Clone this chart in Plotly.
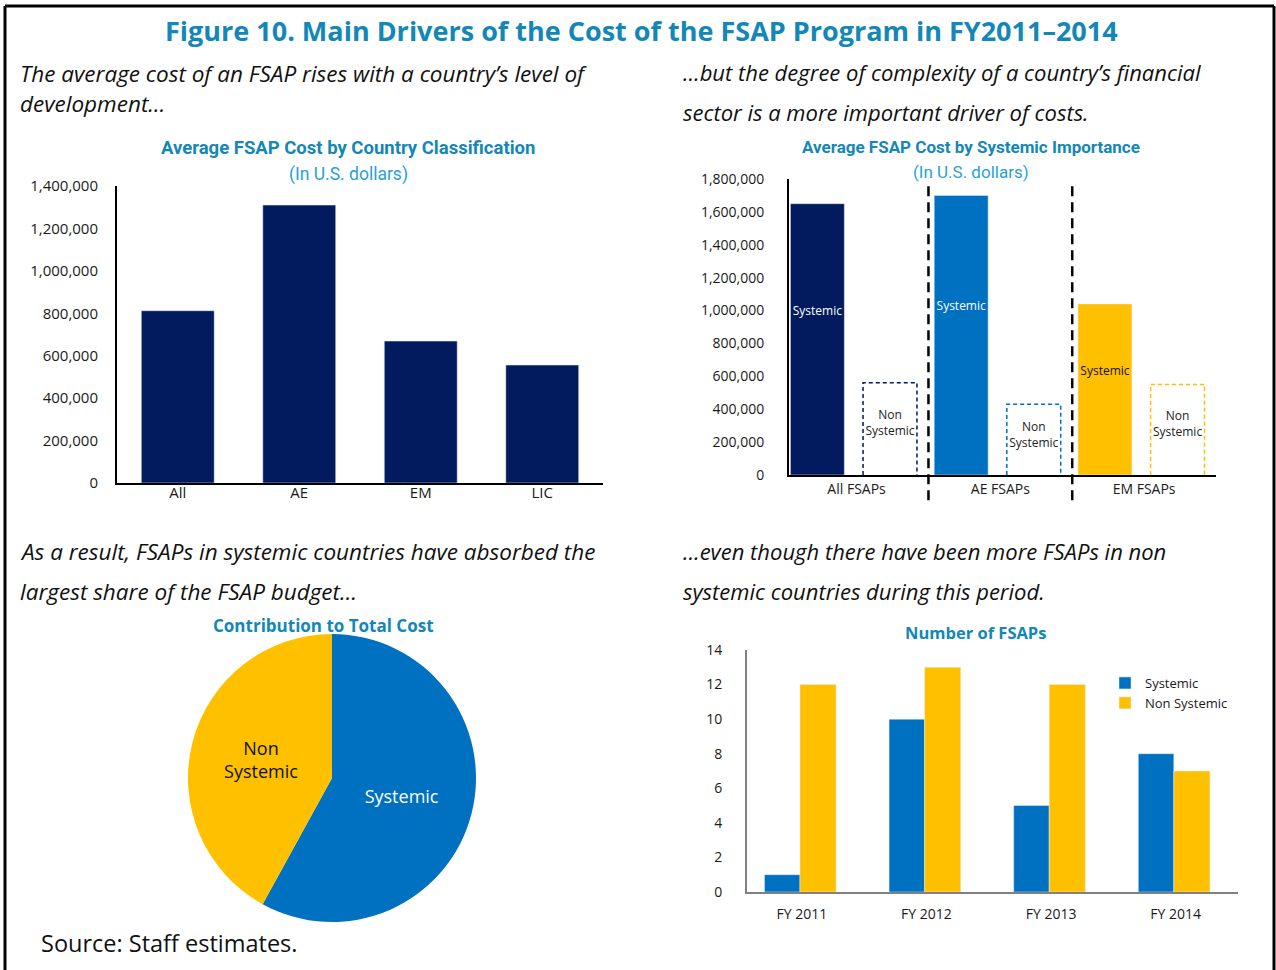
import plotly.graph_objs as go

# top left: average FSAP cost by country classification
class_names = ['All', 'AE', 'EM', 'LIC']
class_cost = [812000, 1310000, 669000, 556000]

# top right: average FSAP cost by systemic importance
group_names = ['All FSAPs', 'AE FSAPs', 'EM FSAPs']
systemic_cost = [1650000, 1700000, 1040000]
non_systemic_cost = [561000, 430000, 551000]

# bottom left: contribution to total cost (percent)
share_labels = ['Systemic', 'Non Systemic']
share_values = [58, 42]

# bottom right: number of FSAPs
years = ['FY 2011', 'FY 2012', 'FY 2013', 'FY 2014']
n_systemic = [1, 10, 5, 8]
n_non_systemic = [12, 13, 12, 7]

NAVY = '#021b5e'
BLUE = '#0070c0'
GOLD = '#ffc000'
TEAL = '#1387b6'
LIGHT = '#2a9fd6'
group_colors = [NAVY, BLUE, GOLD]

W, H = 1276, 970
FONT = 'Open Sans'


def px(x):
    return x / W


def py(y):
    return 1 - y / H


def note(text, x, y, size, color='#111111', bold=False, italic=False, xanchor='left', family=FONT):
    if bold:
        text = '<b>' + text + '</b>'
    if italic:
        text = '<i>' + text + '</i>'
    return dict(text=text, x=px(x), y=py(y), xref='paper', yref='paper',
                xanchor=xanchor, yanchor='middle', showarrow=False,
                font=dict(family=family, size=size, color=color))


traces = []

# panel 1
traces.append(go.Bar(
    x=list(range(len(class_names))), y=class_cost, width=0.6,
    marker=dict(color=NAVY), xaxis='x', yaxis='y', showlegend=False,
    hoverinfo='skip'
))

# panel 2: systemic bars, then white non-systemic bars with dashed outline
bw = 0.375
off_s = -0.46
off_n = 0.045
idx = list(range(len(group_names)))
traces.append(go.Bar(
    x=idx, y=systemic_cost, width=bw, offset=off_s,
    marker=dict(color=group_colors), xaxis='x2', yaxis='y2', showlegend=False,
    hoverinfo='skip'
))
traces.append(go.Bar(
    x=idx, y=non_systemic_cost, width=bw, offset=off_n,
    marker=dict(color='white'), xaxis='x2', yaxis='y2', showlegend=False,
    hoverinfo='skip'
))
for i, v in enumerate(non_systemic_cost):
    x0, x1 = i + off_n, i + off_n + bw
    traces.append(go.Scatter(
        x=[x0, x0, x1, x1], y=[0, v, v, 0], mode='lines',
        line=dict(color=group_colors[i], width=1.5, dash='4px,3px'),
        xaxis='x2', yaxis='y2', showlegend=False, hoverinfo='skip'
    ))
traces.append(go.Scatter(
    x=[i + off_s + bw / 2 for i in idx], y=[v * 0.6 for v in systemic_cost],
    mode='text', text=['Systemic'] * 3,
    textfont=dict(family=FONT, size=12, color=['white', 'white', '#111111']),
    xaxis='x2', yaxis='y2', showlegend=False, hoverinfo='skip'
))
traces.append(go.Scatter(
    x=[i + off_n + bw / 2 for i in idx], y=[v * 0.55 for v in non_systemic_cost],
    mode='text', text=['Non<br>Systemic'] * 3,
    textfont=dict(family=FONT, size=12, color='#222222'),
    xaxis='x2', yaxis='y2', showlegend=False, hoverinfo='skip'
))

# panel 3: pie
traces.append(go.Pie(
    labels=share_labels, values=share_values,
    text=['Systemic', 'Non<br>Systemic'], textinfo='text',
    textposition='inside', insidetextorientation='horizontal',
    textfont=dict(family=FONT, size=18, color=['white', '#111111']),
    marker=dict(colors=[BLUE, GOLD]),
    direction='clockwise', sort=False, rotation=0,
    domain=dict(x=[px(181), px(483)], y=[py(922), py(634)]),
    showlegend=False, hoverinfo='skip'
))

# panel 4
yr = list(range(len(years)))
traces.append(go.Bar(
    x=yr, y=n_systemic, width=0.285, offset=-0.3, name='Systemic',
    marker=dict(color=BLUE), xaxis='x3', yaxis='y3', hoverinfo='skip'
))
traces.append(go.Bar(
    x=yr, y=n_non_systemic, width=0.29, offset=-0.015, name='Non Systemic',
    marker=dict(color=GOLD), xaxis='x3', yaxis='y3', hoverinfo='skip'
))

tickfont = dict(family=FONT, size=15, color='#1a1a1a')
smallfont = dict(family=FONT, size=14, color='#1a1a1a')

common = dict(showgrid=False, zeroline=False, fixedrange=True, ticks='', automargin=False)

layout = go.Layout(
    width=W, height=H,
    margin=dict(l=0, r=0, t=0, b=0, pad=0, autoexpand=False),
    paper_bgcolor='white', plot_bgcolor='white',
    font=dict(family=FONT, color='#1a1a1a'),
    barmode='overlay',
    xaxis=dict(domain=[px(117), px(603)], range=[-0.5, 3.5], anchor='y',
               tickvals=list(range(len(class_names))), ticktext=class_names,
               showline=True, linecolor='black', linewidth=2,
               tickfont=tickfont, ticklabelstandoff=-5, **common),
    yaxis=dict(domain=[py(483), py(186)], range=[0, 1400000], dtick=200000, anchor='x',
               tickformat=',', showline=True, linecolor='black', linewidth=2,
               tickfont=tickfont, ticklabelstandoff=14, **common),
    xaxis2=dict(domain=[px(789), px(1216)], range=[-0.47, 2.5], anchor='y2',
                tickvals=idx, ticktext=group_names,
                showline=True, linecolor='black', linewidth=2,
                tickfont=smallfont, ticklabelstandoff=0, **common),
    yaxis2=dict(domain=[py(475), py(179)], range=[0, 1800000], dtick=200000, anchor='x2',
                tickformat=',', showline=True, linecolor='black', linewidth=2,
                tickfont=smallfont, ticklabelstandoff=20, **common),
    xaxis3=dict(domain=[px(747), px(1238)], range=[-0.44, 3.5], anchor='y3',
                tickvals=yr, ticktext=years,
                showline=True, linecolor='#808080', linewidth=2,
                tickfont=smallfont, ticklabelstandoff=8, **common),
    yaxis3=dict(domain=[py(892), py(650)], range=[0, 14], dtick=2, anchor='x3',
                showline=True, linecolor='#808080', linewidth=2,
                tickfont=smallfont, ticklabelstandoff=20, **common),
    legend=dict(x=px(1105), y=py(668), xanchor='left', yanchor='top',
                font=dict(family=FONT, size=13, color='#1a1a1a'),
                bgcolor='rgba(0,0,0,0)', tracegroupgap=0, itemwidth=30),
)

annotations = [
    note('Figure 10. Main Drivers of the Cost of the FSAP Program in FY2011\u20132014',
         641, 30, 27, color=TEAL, bold=True, xanchor='center'),
    note('The average cost of an FSAP rises with a country\u2019s level of', 18, 74, 22.5, italic=True),
    note('development\u2026', 18, 104, 22.5, italic=True),
    note('\u2026but the degree of complexity of a country\u2019s financial', 681, 72, 22, italic=True),
    note('sector is a more important driver of costs.', 681, 112, 22, italic=True),
    note('As a result, FSAPs in systemic countries have absorbed the', 18, 551, 22.5, italic=True),
    note('largest share of the FSAP budget\u2026', 18, 591, 22.5, italic=True),
    note('\u2026even though there have been more FSAPs in non', 681, 551, 22, italic=True),
    note('systemic countries during this period.', 681, 591, 22, italic=True),
    note('Source: Staff estimates.', 39, 943, 23.5),
    note('Average FSAP Cost by Country Classification', 348, 148, 18.5, color=TEAL,
         bold=True, xanchor='center', family='Roboto'),
    note('(In U.S. dollars)', 348, 174, 17.5, color=LIGHT, xanchor='center', family='Roboto'),
    note('Average FSAP Cost by Systemic Importance', 971, 147, 17, color=TEAL,
         bold=True, xanchor='center', family='Roboto'),
    note('(In U.S. dollars)', 971, 172, 17, color=LIGHT, xanchor='center', family='Roboto'),
    note('Contribution to Total Cost', 323, 625, 17, color=TEAL, bold=True, xanchor='center'),
    note('Number of FSAPs', 975, 632, 16.5, color=TEAL, bold=True, xanchor='center'),
]

shapes = [
    # outer frame (no bottom edge)
    dict(type='line', xref='paper', yref='paper', x0=px(5), x1=px(5), y0=0, y1=py(6),
         line=dict(color='black', width=3)),
    dict(type='line', xref='paper', yref='paper', x0=px(5), x1=px(1274), y0=py(6), y1=py(6),
         line=dict(color='black', width=3)),
    dict(type='line', xref='paper', yref='paper', x0=px(1274), x1=px(1274), y0=0, y1=py(6),
         line=dict(color='black', width=3)),
]
# dashed separators between the groups of panel 2
for sep in [0.5, 1.5]:
    shapes.append(dict(type='line', xref='x2', yref='y2 domain', x0=sep, x1=sep,
                       y0=-0.085, y1=0.99, line=dict(color='black', width=2.5, dash='10px,6px')))

layout.annotations = annotations
layout.shapes = shapes

fig = go.Figure(data=traces, layout=layout)
# pin the plot to the top-left corner of the page
pin = ("document.body.style.margin='0';document.body.style.overflow='hidden';"
       "var d=document.getElementById('{plot_id}');"
       "d.style.position='absolute';d.style.left='0px';d.style.top='0px';")
fig.write_html('out.html', post_script=pin, config={'displayModeBar': False})
